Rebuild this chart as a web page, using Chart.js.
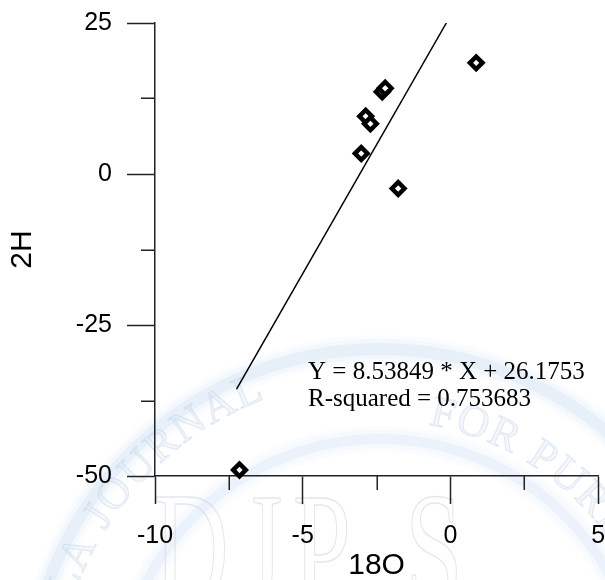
<!DOCTYPE html>
<html><head><meta charset="utf-8">
<script src="https://cdn.jsdelivr.net/npm/chart.js@4"></script>
<style>html,body{margin:0;padding:0;background:#fff;overflow:hidden}#wrap{width:605px;height:580px;position:relative;overflow:hidden}</style>
</head><body><div id="wrap"><canvas id="c" width="609" height="580"></canvas></div>
<script>
// Data
const xValues = [0.87, -2.31, -2.21, -2.87, -2.71, -3.02, -1.77, -7.14];
const yValues = [18.4, 13.6, 14.2, 9.55, 8.31, 3.4, -2.4, -49.0];
const fitX = [-7.24, -0.14];
const fitY = [-35.6, 25.0];
const xMajorTicks = [-10, -5, 0, 5];
const yMajorTicks = [-50, -25, 0, 25];
const xMinorTicks = [-7.5, -2.5, 2.5];
const yMinorTicks = [-37.5, -12.5, 12.5];
const equationLines = ['Y = 8.53849 * X + 26.1753', 'R-squared = 0.753683'];
const xTitle = '18O';
const yTitle = '2H';
const wmArcLeft = 'DIYALA JOURNAL';
const wmArcRight = 'FOR PURE SCIENCES';
const wmLetters = ['D', 'J', 'P', 'S'];

const AXIS = '#222';

const watermark = {
  id: 'watermark',
  beforeDraw(chart) {
    const ctx = chart.ctx;
    const cx = 380, cy = 701;
    ctx.save();
    const band = (rad, w, a) => {
      for (let k = 0; k < 3; k++) {
        ctx.strokeStyle = `rgba(200,220,242,${a / (k + 1)})`;
        ctx.lineWidth = w + k * 8;
        ctx.beginPath(); ctx.arc(cx, cy, rad, Math.PI, 2 * Math.PI); ctx.stroke();
      }
    };
    band(352, 12, 0.28);
    band(262, 10, 0.22);
    ctx.font = '44px "Liberation Serif"';
    ctx.textAlign = 'center';
    ctx.textBaseline = 'middle';
    ctx.fillStyle = 'rgba(215,228,242,0.3)';
    ctx.strokeStyle = 'rgba(175,195,220,0.35)';
    ctx.lineWidth = 1;
    const drawArc = (txt, r, endAngle, fromEnd) => {
      const widths = [...txt].map(ch => ctx.measureText(ch).width + 3);
      const total = widths.reduce((a, b) => a + b, 0);
      const a0 = fromEnd ? endAngle - total / r : endAngle;
      let acc = 0;
      [...txt].forEach((ch, i) => {
        const ang = a0 + (acc + widths[i] / 2) / r;
        acc += widths[i];
        ctx.save();
        ctx.translate(cx + r * Math.cos(ang), cy + r * Math.sin(ang));
        ctx.rotate(ang + Math.PI / 2);
        ctx.fillText(ch, 0, 0);
        ctx.strokeText(ch, 0, 0);
        ctx.restore();
      });
    };
    drawArc(wmArcLeft, 335, -Math.PI / 2 - 0.36, true);
    drawArc(wmArcRight, 292, -Math.PI / 2 + 0.17, false);
    ctx.font = '160px "Liberation Serif"';
    ctx.textBaseline = 'alphabetic';
    ctx.strokeStyle = 'rgba(175,185,200,0.35)';
    ctx.lineWidth = 1.5;
    const centers = [191, 262, 322, 434];
    wmLetters.forEach((l, i) => {
      ctx.save();
      ctx.translate(centers[i], 603);
      ctx.scale(0.65, 1);
      ctx.strokeText(l, 0, 0);
      ctx.restore();
    });
    ctx.restore();
  }
};

const extras = {
  id: 'extras',
  afterDraw(chart) {
    const ctx = chart.ctx, ca = chart.chartArea;
    const xs = chart.scales.x, ys = chart.scales.y;
    ctx.save();
    ctx.strokeStyle = AXIS;
    ctx.lineWidth = 1.5;
    ctx.beginPath();
    xMinorTicks.forEach(v => { const p = Math.round(xs.getPixelForValue(v)) + 0.25; ctx.moveTo(p, ca.bottom); ctx.lineTo(p, ca.bottom + 14); });
    yMinorTicks.forEach(v => { const p = Math.round(ys.getPixelForValue(v)) + 0.25; ctx.moveTo(ca.left, p); ctx.lineTo(ca.left - 14, p); });
    ctx.stroke();
    ctx.fillStyle = '#000';
    ctx.font = '25px "Liberation Serif"';
    ctx.textAlign = 'left';
    ctx.textBaseline = 'alphabetic';
    ctx.fillText(equationLines[0], ca.left + 153, ca.top + 356);
    ctx.fillText(equationLines[1], ca.left + 153, ca.top + 383);
    ctx.restore();
  }
};

new Chart(document.getElementById('c'), {
  type: 'scatter',
  data: {
    datasets: [
      {
        data: xValues.map((x, i) => ({x, y: yValues[i]})),
        pointStyle: 'rectRot',
        pointRadius: 6.3,
        pointBorderWidth: 4.5,
        pointBorderColor: '#000',
        pointBackgroundColor: '#fff',
        clip: false,
        order: 1
      },
      {
        data: fitX.map((x, i) => ({x, y: fitY[i]})),
        showLine: true,
        borderColor: '#000',
        borderWidth: 1.5,
        pointRadius: 0,
        order: 2
      }
    ]
  },
  options: {
    responsive: false,
    devicePixelRatio: 1,
    animation: false,
    layout: {padding: {left: 0, right: 0, top: 23, bottom: 0}},
    plugins: {legend: {display: false}, tooltip: {enabled: false}},
    scales: {
      x: {
        type: 'linear', min: -10, max: 5,
        afterBuildTicks: s => { s.ticks = xMajorTicks.map(v => ({value: v})); },
        afterFit: s => { s.height = 104; s.paddingLeft = 0; s.paddingRight = 0; },
        grid: {display: true, drawOnChartArea: false, drawTicks: true, tickLength: 28, tickColor: AXIS, tickWidth: 1.5},
        border: {display: true, color: AXIS, width: 1.5},
        ticks: {color: '#000', font: {family: '"Liberation Sans", Arial', size: 25}, padding: 17, maxRotation: 0, callback: v => String(v)},
        title: {display: true, text: xTitle, color: '#000', font: {family: '"Liberation Sans", Arial', size: 30, lineHeight: 1}, padding: {top: 0, bottom: -1}}
      },
      y: {
        type: 'linear', min: -50, max: 25,
        afterBuildTicks: s => { s.ticks = yMajorTicks.map(v => ({value: v})); },
        afterFit: s => { s.width = 155; s.paddingTop = 0; s.paddingBottom = 0; },
        grid: {display: true, drawOnChartArea: false, drawTicks: true, tickLength: 28, tickColor: AXIS, tickWidth: 1.5},
        border: {display: true, color: AXIS, width: 1.5},
        ticks: {color: '#000', font: {family: '"Liberation Sans", Arial', size: 25}, padding: 15, callback: v => String(v)},
        title: {display: true, text: yTitle, color: '#000', font: {family: '"Liberation Sans", Arial', size: 30, lineHeight: 1}, padding: {top: 8, bottom: 0}}
      }
    }
  },
  plugins: [watermark, extras]
});
</script>
</body></html>
